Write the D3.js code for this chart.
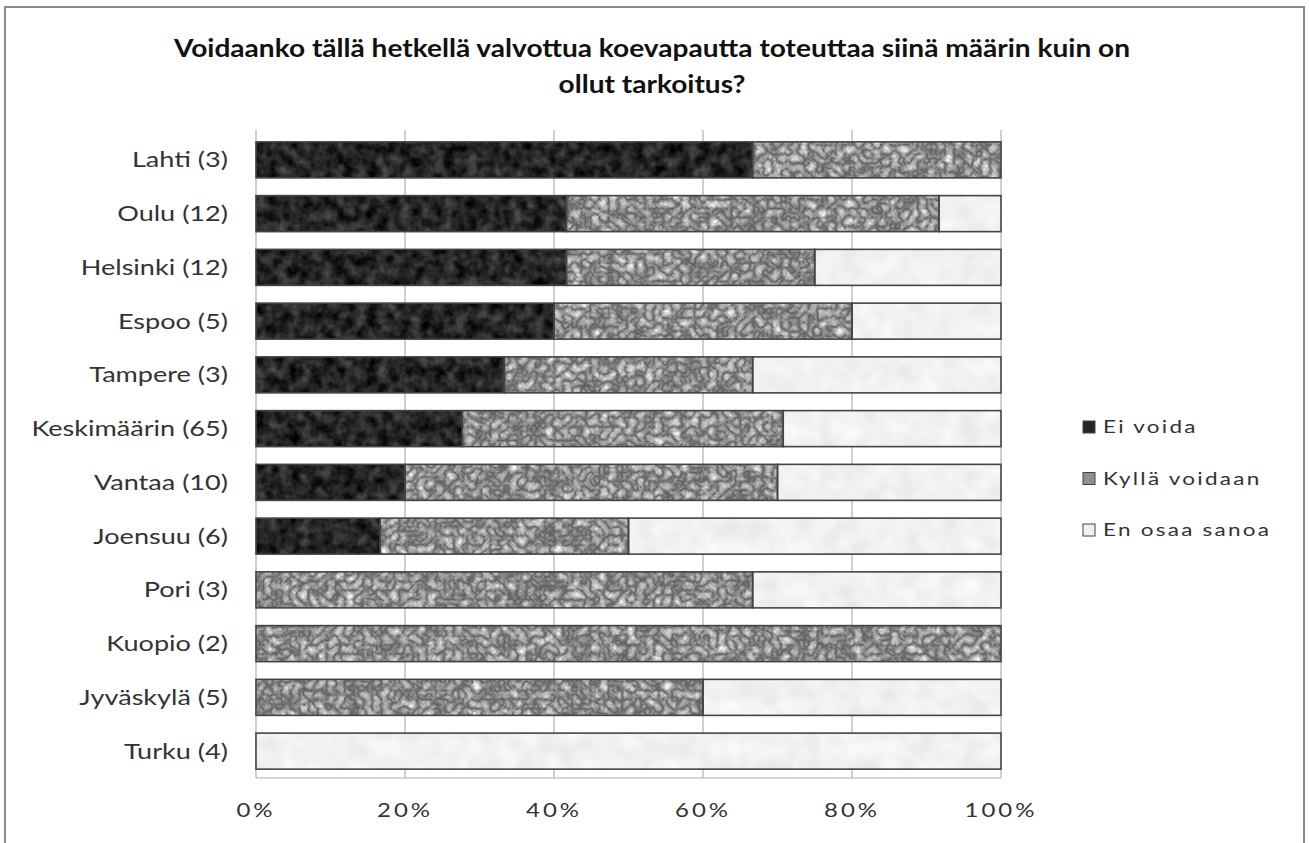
<!DOCTYPE html>
<html>
<head>
<meta charset="utf-8">
<script src="https://cdn.jsdelivr.net/npm/d3@7"></script>
<style>
  html, body { margin: 0; padding: 0; background: #fff; }
  svg { display: block; }
  text { font-family: Lato, "Open Sans", sans-serif; fill: #333; }
</style>
</head>
<body>
<svg id="chart" width="1309" height="843"></svg>
<script>
// Survey answers per city (share of respondents), ordered as shown
const categories = [
  "Lahti (3)", "Oulu (12)", "Helsinki (12)", "Espoo (5)", "Tampere (3)",
  "Keskimäärin (65)", "Vantaa (10)", "Joensuu (6)", "Pori (3)",
  "Kuopio (2)", "Jyväskylä (5)", "Turku (4)"
];
const seriesNames = ["Ei voida", "Kyllä voidaan", "En osaa sanoa"];
const eiVoida      = [2/3, 5/12, 5/12, 0.40, 1/3, 18/65, 0.20, 1/6, 0,   0, 0,    0];
const kyllaVoidaan = [1/3, 6/12, 4/12, 0.40, 1/3, 28/65, 0.50, 2/6, 2/3, 1, 0.60, 0];
const enOsaa       = [0,   1/12, 3/12, 0.20, 1/3, 19/65, 0.30, 3/6, 1/3, 0, 0.40, 1];
const tickValues = [0, 0.2, 0.4, 0.6, 0.8, 1];
const tickLabels = ["0%", "20%", "40%", "60%", "80%", "100%"];
const titleLines = [
  "Voidaanko tällä hetkellä valvottua koevapautta toteuttaa siinä määrin kuin on",
  "ollut tarkoitus?"
];

const svg = d3.select("#chart");

// Outer chart frame
svg.append("rect")
  .attr("x", 5).attr("y", 7).attr("width", 1299).attr("height", 845)
  .attr("fill", "#fff").attr("stroke", "#8a8a8a").attr("stroke-width", 2);

// Texture filters for the three fill styles
const defs = svg.append("defs");
function textureFilter(id, freq, octaves, gain, offset, type, seed) {
  const f = defs.append("filter").attr("id", id)
    .attr("x", 0).attr("y", 0).attr("width", 1).attr("height", 1)
    .attr("filterUnits", "objectBoundingBox")
    .attr("color-interpolation-filters", "sRGB");
  f.append("feTurbulence").attr("type", type).attr("baseFrequency", freq)
    .attr("numOctaves", octaves).attr("seed", seed).attr("result", "noise");
  f.append("feColorMatrix").attr("in", "noise").attr("type", "matrix")
    .attr("values", `${gain} 0 0 0 ${offset}  ${gain} 0 0 0 ${offset}  ${gain} 0 0 0 ${offset}  0 0 0 0 1`)
    .attr("result", "gray");
  f.append("feComposite").attr("in", "gray").attr("in2", "SourceGraphic").attr("operator", "in");
}
textureFilter("tex-dark", 0.09, 3, 0.45, -0.08, "fractalNoise", 3);
textureFilter("tex-mid", 0.11, 2, 0.8, 0.36, "turbulence", 7);
textureFilter("tex-light", 0.05, 2, 0.1, 0.895, "fractalNoise", 11);
const filters = ["tex-dark", "tex-mid", "tex-light"];
const swatchColors = ["#262626", "#8f8f8f", "#f0f0f0"];

const plot = { left: 256, right: 1001, top: 133, bottom: 778 };

const x = d3.scaleLinear().domain([0, 1]).range([plot.left, plot.right]);
const y = d3.scaleBand().domain(categories).range([plot.top, plot.bottom])
  .paddingInner(0.33).paddingOuter(0.165);

// Vertical gridlines
svg.append("g").selectAll("line").data(tickValues).join("line")
  .attr("x1", d => x(d)).attr("x2", d => x(d))
  .attr("y1", plot.top - 3).attr("y2", plot.bottom)
  .attr("stroke", "#b0b0b0").attr("stroke-width", 1.2);
// Bottom edge of the plot area
svg.append("line")
  .attr("x1", plot.left).attr("x2", plot.right)
  .attr("y1", plot.bottom).attr("y2", plot.bottom)
  .attr("stroke", "#b0b0b0").attr("stroke-width", 1.2);

// Stack the series
const rows = categories.map((c, i) => ({ cat: c, v: [eiVoida[i], kyllaVoidaan[i], enOsaa[i]] }));
const segs = [];
rows.forEach(r => {
  let acc = 0;
  r.v.forEach((val, s) => {
    segs.push({ cat: r.cat, s, x0: acc, x1: acc + val });
    acc += val;
  });
});

const bars = svg.append("g");
bars.selectAll("rect.fill").data(segs.filter(d => d.x1 - d.x0 > 0)).join("rect")
  .attr("class", "fill")
  .attr("x", d => x(d.x0)).attr("y", d => y(d.cat))
  .attr("width", d => x(d.x1) - x(d.x0)).attr("height", y.bandwidth())
  .attr("fill", "#000")
  .attr("filter", d => `url(#${filters[d.s]})`);
bars.selectAll("rect.edge").data(segs).join("rect")
  .attr("class", "edge")
  .attr("x", d => x(d.x0)).attr("y", d => y(d.cat))
  .attr("width", d => Math.max(0, x(d.x1) - x(d.x0))).attr("height", y.bandwidth())
  .attr("fill", "none").attr("stroke", "#444").attr("stroke-width", 1.6);

// Category labels (text is drawn slightly widened)
svg.append("g").selectAll("text").data(categories).join("text")
  .attr("transform", d => `translate(${plot.left - 28}, ${y(d) + y.bandwidth() / 2}) scale(1.29, 1)`)
  .attr("dy", "0.36em")
  .attr("text-anchor", "end")
  .attr("font-size", 21)
  .text(d => d);

// X axis tick labels
svg.append("g").selectAll("text").data(tickValues).join("text")
  .attr("transform", d => `translate(${x(d)}, 817) scale(1.2, 1)`)
  .attr("text-anchor", "middle")
  .attr("font-size", 20)
  .attr("letter-spacing", 2.5)
  .text((d, i) => tickLabels[i]);

// Title
svg.append("g").selectAll("text").data(titleLines).join("text")
  .attr("transform", (d, i) => `translate(652, ${57 + i * 36}) scale(1.17, 1)`)
  .attr("text-anchor", "middle")
  .attr("font-size", 24).attr("font-weight", "bold")
  .style("fill", "#111")
  .text(d => d);

// Legend
const legend = svg.append("g").attr("transform", "translate(1083, 421)");
const item = legend.selectAll("g").data(seriesNames).join("g")
  .attr("transform", (d, i) => `translate(0, ${i * 51.5})`);
item.append("rect").attr("width", 12).attr("height", 12)
  .attr("fill", (d, i) => swatchColors[i])
  .attr("stroke", "#444").attr("stroke-width", 1);
item.append("text")
  .attr("transform", "translate(20, 12) scale(1.25, 1)")
  .attr("font-size", 18)
  .attr("letter-spacing", 1.8)
  .text(d => d);
</script>
</body>
</html>
